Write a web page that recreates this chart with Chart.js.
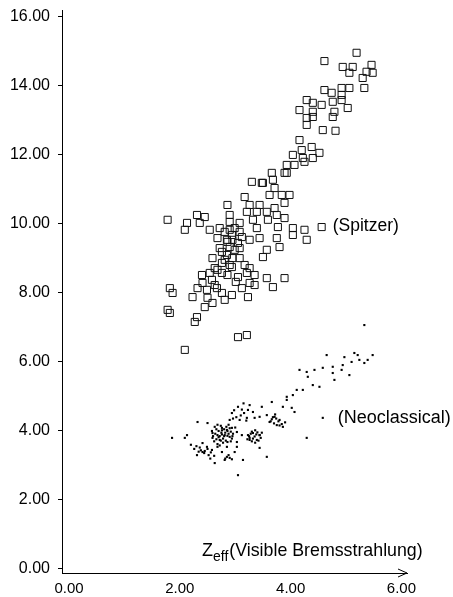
<!DOCTYPE html>
<html>
<head>
<meta charset="utf-8">
<script src="https://cdn.jsdelivr.net/npm/chart.js@4"></script>
<style>
  html, body { margin: 0; padding: 0; background: #fff; }
  #wrap { width: 453px; height: 597px; position: relative; }
</style>
</head>
<body>
<div id="wrap"><canvas id="chart-zeff"></canvas></div>
<script>
// Spitzer estimate (open squares)
const spitzerZeff = [
  5.19, 4.61, 4.94, 5.12, 5.46, 5.37, 5.06, 5.30, 5.48, 4.61, 4.74, 4.92, 5.06, 5.33, 4.92,
  4.40, 4.56, 4.76, 4.92, 5.03, 4.29, 4.16, 4.40, 4.29, 4.40, 4.76, 4.79, 4.29, 4.58, 4.81,
  4.16, 4.38, 4.52, 4.04, 4.20, 4.22, 4.40, 3.93, 4.07, 4.25, 3.93, 3.66, 3.68, 3.50,
  3.89, 3.30, 3.48, 3.71, 3.62, 3.84, 3.98, 3.17, 2.86, 3.26, 3.44, 3.71, 3.89, 3.21, 3.39,
  3.57, 3.75, 2.90, 2.45, 2.31, 1.78, 2.13, 2.36, 2.09, 2.90, 3.08, 3.32, 3.59, 3.89, 3.39,
  3.77, 4.04, 4.25, 4.56, 2.54, 2.72, 2.90, 3.08, 2.68, 2.85, 2.95, 3.12, 3.26, 3.44, 3.75,
  4.04, 4.29, 2.72, 2.90, 3.08, 2.85, 3.80, 3.57, 3.50, 2.59, 2.95, 2.76, 2.94, 2.63, 3.17,
  3.26, 2.54, 2.76, 3.05, 3.21, 3.35, 3.57, 3.89, 3.68, 2.40, 2.58, 2.41, 2.67, 2.49, 2.32,
  3.12, 3.26, 3.35, 1.82, 1.87, 2.23, 2.50, 2.94, 2.81, 3.23, 2.59, 2.45, 2.31, 2.27, 1.78,
  1.82, 3.05, 3.21, 2.09,
  2.81, 2.94, 2.86, 2.99, 2.81, 2.90, 3.05, 2.76, 2.99, 3.08, 2.68, 2.86, 3.01, 2.63, 2.76
];
const spitzerValue = [
  14.96, 14.72, 14.55, 14.55, 14.61, 14.41, 14.38, 14.23, 14.38, 13.88, 13.80, 13.94, 13.94, 13.94, 13.74,
  13.51, 13.45, 13.54, 13.59, 13.36, 13.59, 13.30, 13.25, 13.07, 13.10, 13.10, 13.25, 12.87, 12.72, 12.70,
  12.43, 12.23, 12.06, 12.00, 12.14, 11.91, 11.91, 11.71, 11.71, 11.80, 11.48, 11.48, 11.28, 11.19,
  11.48, 11.22, 11.19, 11.04, 10.84, 10.84, 10.84, 10.78, 10.55, 10.55, 10.55, 10.46, 10.61, 10.35, 10.35,
  10.35, 10.26, 10.26, 10.20, 10.26, 10.12, 10.03, 10.03, 9.83, 10.06, 10.03, 10.12, 10.12, 10.17, 9.88,
  9.91, 9.88, 9.83, 9.91, 9.83, 9.88, 9.83, 9.77, 9.59, 9.54, 9.54, 9.62, 9.54, 9.59, 9.59,
  9.68, 9.54, 9.30, 9.33, 9.30, 9.10, 9.33, 9.25, 9.04, 9.01, 9.01, 8.87, 8.75, 8.72, 8.81,
  8.72, 8.58, 8.58, 8.46, 8.58, 8.52, 8.43, 8.43, 8.17, 8.52, 8.38, 8.29, 8.14, 8.09, 8.14,
  8.14, 8.29, 8.23, 8.14, 8.00, 7.88, 7.86, 7.94, 7.80, 7.88, 7.71, 7.59, 7.30, 7.16, 7.51,
  7.42, 6.72, 6.78, 6.35,
  9.77, 9.68, 9.48, 9.25, 8.96, 8.81, 9.45, 9.19, 9.88, 9.01, 8.67, 8.52, 8.32, 8.23, 8.00
];

// Neoclassical estimate (small dots)
const neoZeff = [
  5.33, 4.65, 4.97, 5.15, 5.21, 5.48, 5.10, 5.24, 5.33, 5.39, 4.94, 4.92, 4.76, 4.76, 4.79,
  5.06, 4.58, 4.43, 4.29, 4.31, 4.16, 4.40, 4.52, 4.22, 4.11, 4.04, 3.93, 3.93, 3.66, 4.02,
  4.07, 3.86, 3.48, 3.26, 3.23, 3.32, 3.44, 3.57, 3.71, 3.80, 3.75, 3.86, 3.62, 2.94, 2.90,
  3.08, 3.21, 3.35, 2.50, 2.32, 2.13, 1.86, 2.63, 2.76, 2.85, 2.94, 2.59, 2.68, 2.81, 2.90,
  3.03, 3.12, 2.59, 2.72, 2.86, 3.23, 3.32, 3.44, 3.26, 3.39, 3.03, 2.41, 2.49, 2.58, 2.41,
  2.31, 2.68, 2.85, 3.03, 2.99, 2.76, 2.85, 2.90, 3.14, 2.63, 2.81, 3.44, 3.57, 4.29, 4.58,
  3.05, 2.09,
  2.70, 2.75, 2.80, 2.88, 2.72, 2.78, 2.92, 2.66, 2.83, 2.95, 2.62, 2.74, 2.88, 3.00, 2.68,
  3.28, 3.35, 3.40, 3.30, 3.46, 3.36, 3.22, 3.66, 3.70, 3.78, 3.84, 3.72,
  2.20, 2.26, 2.36, 2.45, 2.52, 2.55, 3.05, 3.12, 3.15, 2.98,
  2.64, 2.70, 2.76, 2.82, 2.86, 2.90, 2.94, 2.78, 2.72, 2.84, 2.68, 2.60, 2.96, 2.74, 2.80,
  2.66, 2.92, 2.86, 2.58, 2.76,
  3.25, 3.32, 3.38, 3.42, 3.30, 3.44, 3.36, 3.26, 3.48,
  3.02, 3.10, 3.16, 2.96, 3.20, 3.64, 3.74, 3.80, 3.68, 3.90,
  2.30, 2.38, 2.44, 2.50, 2.56, 2.34, 2.62, 2.82, 2.88, 2.94
];
const neoValue = [
  7.07, 6.20, 6.14, 6.26, 6.20, 6.20, 6.00, 6.06, 5.97, 6.06, 5.91, 5.77, 5.86, 5.68, 5.48,
  5.62, 5.83, 5.77, 5.71, 5.57, 5.77, 5.33, 5.28, 5.19, 5.19, 5.04, 4.99, 4.90, 4.84, 4.67,
  4.55, 4.70, 4.70, 4.75, 4.61, 4.55, 4.41, 4.46, 4.41, 4.32, 4.17, 4.12, 4.26, 4.52, 4.32,
  4.32, 4.38, 4.38, 4.23, 4.26, 3.88, 3.80, 4.12, 4.09, 4.03, 4.09, 3.94, 3.88, 3.88, 3.83,
  3.97, 3.88, 3.80, 3.74, 3.68, 3.88, 3.94, 3.88, 3.80, 3.74, 3.68, 3.65, 3.54, 3.45, 3.39,
  3.30, 3.54, 3.54, 3.54, 3.39, 3.39, 3.25, 3.22, 3.16, 3.07, 3.16, 3.51, 3.25, 3.80, 4.38,
  2.72, 3.80,
  4.00, 3.95, 4.05, 3.92, 3.85, 3.78, 3.98, 4.05, 3.72, 3.85, 3.70, 4.15, 4.18, 4.10, 3.62,
  3.92, 3.84, 3.96, 3.70, 3.80, 4.02, 3.76, 4.34, 4.22, 4.28, 4.20, 4.48,
  3.60, 3.48, 3.52, 3.42, 3.30, 3.20, 4.70, 4.62, 4.80, 4.60,
  3.92, 3.82, 4.02, 3.95, 3.86, 4.08, 3.78, 3.66, 3.58, 4.12, 4.18, 3.85, 3.92, 3.72, 3.85,
  3.76, 3.70, 4.00, 4.00, 3.90,
  3.85, 3.78, 3.90, 3.72, 3.98, 3.88, 3.66, 3.74, 3.95,
  4.40, 4.45, 4.52, 4.36, 4.30, 4.28, 4.36, 4.16, 4.40, 4.25,
  3.56, 3.44, 3.36, 3.48, 3.38, 3.40, 3.28, 3.20, 3.30, 3.18
];

const xTicks = [0, 2, 4, 6];
const yTicks = [0, 2, 4, 6, 8, 10, 12, 14, 16];

const toPoints = (xs, ys) => xs.map((x, i) => ({ x: x, y: ys[i] }));

Chart.defaults.font.family = "'Liberation Sans', Arial, sans-serif";
Chart.defaults.color = "#000";

// axis arrow, x title and the two series captions
const annotate = {
  id: "annotate",
  afterDraw(chart) {
    const ctx = chart.ctx;
    const xs = chart.scales.x;
    const ys = chart.scales.y;
    const area = chart.chartArea;
    ctx.save();
    ctx.strokeStyle = "#000";
    ctx.lineWidth = 1;
    ctx.beginPath();
    ctx.moveTo(area.right - 9, area.bottom - 4);
    ctx.lineTo(area.right, area.bottom);
    ctx.lineTo(area.right - 9, area.bottom + 4);
    ctx.stroke();

    ctx.fillStyle = "#000";
    ctx.textBaseline = "alphabetic";
    ctx.textAlign = "left";
    let tx = 202;
    const base = area.bottom - 17;
    ctx.font = "18px 'Liberation Sans', Arial, sans-serif";
    ctx.fillText("Z", tx, base);
    tx += ctx.measureText("Z").width;
    ctx.font = "14px 'Liberation Sans', Arial, sans-serif";
    ctx.fillText("eff", tx, base + 5);
    tx += ctx.measureText("eff").width + 1;
    ctx.font = "17.8px 'Liberation Sans', Arial, sans-serif";
    ctx.fillText("(Visible Bremsstrahlung)", tx, base);

    ctx.font = "17.5px 'Liberation Sans', Arial, sans-serif";
    ctx.textBaseline = "middle";
    ctx.fillText("(Spitzer)", xs.getPixelForValue(4.76), ys.getPixelForValue(9.94));
    ctx.font = "18px 'Liberation Sans', Arial, sans-serif";
    ctx.fillText("(Neoclassical)", xs.getPixelForValue(4.85), ys.getPixelForValue(4.38));
    ctx.restore();
  },
};

new Chart(document.getElementById("chart-zeff"), {
  type: "scatter",
  data: {
    datasets: [
      {
        label: "Spitzer",
        data: toPoints(spitzerZeff, spitzerValue),
        pointStyle: "rect",
        pointRadius: 5,
        borderColor: "#111",
        borderWidth: 1,
        backgroundColor: "rgba(0,0,0,0)",
      },
      {
        label: "Neoclassical",
        data: toPoints(neoZeff, neoValue),
        pointStyle: "rect",
        pointRadius: 1.5,
        borderWidth: 0,
        backgroundColor: "#000",
      },
    ],
  },
  options: {
    responsive: true,
    maintainAspectRatio: false,
    animation: false,
    events: [],
    layout: { padding: { top: 10, right: 46, left: 0, bottom: 0 } },
    scales: {
      x: {
        type: "linear",
        min: -0.126,
        max: 6.1,
        afterBuildTicks: (s) => { s.ticks = xTicks.map((v) => ({ value: v })); },
        afterFit: (s) => { s.height = 24; s.paddingLeft = 0; s.paddingRight = 0; },
        grid: { display: false, drawTicks: false, tickLength: 0 },
        border: { display: true, color: "#000", width: 1 },
        ticks: {
          padding: 7,
          font: { size: 15 },
          maxRotation: 0,
          callback: (v) => Number(v).toFixed(2),
        },
      },
      y: {
        type: "linear",
        min: -0.116,
        max: 16.2,
        afterBuildTicks: (s) => { s.ticks = yTicks.map((v) => ({ value: v })); },
        afterFit: (s) => { s.width = 62; s.paddingTop = 0; s.paddingBottom = 0; },
        grid: { display: true, drawOnChartArea: false, drawTicks: true, tickLength: 4, color: "#000" },
        border: { display: true, color: "#000", width: 1 },
        ticks: {
          padding: 8,
          font: { size: 16 },
          callback: (v) => Number(v).toFixed(2),
        },
      },
    },
    plugins: {
      legend: { display: false },
      tooltip: { enabled: false },
    },
  },
  plugins: [annotate],
});
</script>
</body>
</html>
